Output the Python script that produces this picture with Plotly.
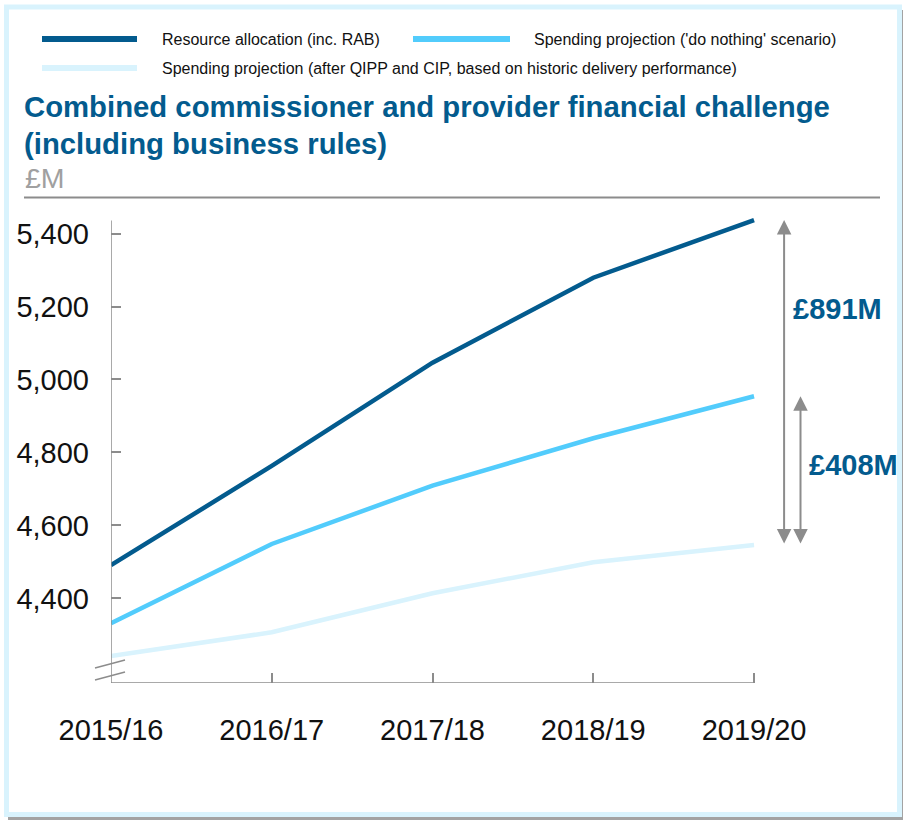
import plotly.graph_objects as go

# Financial years and projections (£M)
categories = ["2015/16", "2016/17", "2017/18", "2018/19", "2019/20"]
resource_allocation = [4491, 4763, 5046, 5279, 5437]
do_nothing = [4332, 4549, 4709, 4839, 4954]
after_qipp_cip = [4242, 4307, 4414, 4499, 4546]
y_tick_values = [4400, 4600, 4800, 5000, 5200, 5400]

series_names = [
    "Resource allocation (inc. RAB)",
    "Spending projection ('do nothing' scenario)",
    "Spending projection (after QIPP and CIP, based on historic delivery performance)",
]
DARK = "#035b8e"
MID = "#52ccfc"
LIGHT = "#d9f3fd"
GREY = "#8c8c8c"
FONT = "Liberation Sans, Arial, sans-serif"

W, H = 903, 820
L, R, T, B = 111, 882, 200, 683
Y_MIN, Y_MAX = 4168, 5492
Y_AXIS_TOP = 5436
X_MAX = 4.796


def px(x):
    return (x - L) / (R - L)


def py(y):
    return (B - y) / (B - T)


xs = list(range(len(categories)))

fig = go.Figure()
for vals, color, name in zip(
    [after_qipp_cip, do_nothing, resource_allocation],
    [LIGHT, MID, DARK],
    [series_names[2], series_names[1], series_names[0]],
):
    fig.add_trace(go.Scatter(x=xs, y=vals, mode="lines", name=name,
                             line=dict(color=color, width=4.5), showlegend=False,
                             hoverinfo="skip"))

shapes = []
# outer frame with drop shadow
shapes.append(dict(type="rect", xref="paper", yref="paper", layer="below",
                   x0=px(8), x1=px(903), y0=py(10), y1=py(820),
                   fillcolor="#a3a3a3", line=dict(width=0)))
shapes.append(dict(type="rect", xref="paper", yref="paper", layer="below",
                   x0=px(6.5), x1=px(899.5), y0=py(7), y1=py(814.5),
                   fillcolor="white", line=dict(color="#d9f3fd", width=5)))
# rule under the heading
shapes.append(dict(type="line", xref="paper", yref="paper",
                   x0=px(24), x1=px(880), y0=py(197.5), y1=py(197.5),
                   line=dict(color=GREY, width=2)))
# axis lines
shapes.append(dict(type="line", xref="x", yref="y", x0=0, x1=0,
                   y0=Y_MIN, y1=Y_AXIS_TOP, line=dict(color=GREY, width=1.5)))
shapes.append(dict(type="line", xref="x", yref="y", x0=0, x1=xs[-1],
                   y0=Y_MIN, y1=Y_MIN, line=dict(color=GREY, width=1.5)))
# axis break marks
for y_off in (0, 12):
    shapes.append(dict(type="line", xref="paper", yref="paper",
                       x0=px(95), x1=px(125), y0=py(668 + y_off), y1=py(660 + y_off),
                       line=dict(color=GREY, width=1.5)))

# legend
legend_rows = [(40, 39, 160, 42, 137, series_names[0], DARK),
               (40, 39, 532, 413, 510, series_names[1], MID),
               (69, 68, 160, 42, 137, series_names[2], LIGHT)]
annotations = []
for ty, ly, tx, lx0, lx1, text, color in legend_rows:
    shapes.append(dict(type="line", xref="paper", yref="paper",
                       x0=px(lx0), x1=px(lx1), y0=py(ly), y1=py(ly),
                       line=dict(color=color, width=6)))
    annotations.append(dict(xref="paper", yref="paper", x=px(tx), y=py(ty),
                            xanchor="left", yanchor="middle", showarrow=False,
                            text=text, font=dict(family=FONT, size=16, color="#111")))

# heading
for text, cy in [("Combined commissioner and provider financial challenge", 107),
                 ("(including business rules)", 143)]:
    annotations.append(dict(xref="paper", yref="paper", x=px(22), y=py(cy),
                            xanchor="left", yanchor="middle", showarrow=False,
                            text=f"<b>{text}</b>",
                            font=dict(family=FONT, size=29.3, color=DARK)))
annotations.append(dict(xref="paper", yref="paper", x=px(23), y=py(178),
                        xanchor="left", yanchor="middle", showarrow=False,
                        text="£M", font=dict(family=FONT, size=28.5, color="#a0a0a0")))

# gap arrows at the final year
last = len(categories) - 1
gap_total = resource_allocation[last] - after_qipp_cip[last]
gap_after = do_nothing[last] - after_qipp_cip[last]
for ax_x, top in [(4.187, resource_allocation[last]), (4.289, do_nothing[last])]:
    annotations.append(dict(xref="x", yref="y", x=ax_x, y=top,
                            axref="x", ayref="y", ax=ax_x, ay=after_qipp_cip[last],
                            text="", showarrow=True, arrowside="end+start",
                            arrowhead=2, startarrowhead=2,
                            arrowsize=1.45, startarrowsize=1.45,
                            arrowwidth=2, arrowcolor=GREY, standoff=0, startstandoff=0))
annotations.append(dict(xref="paper", yref="paper", x=px(791), y=py(309),
                        xanchor="left", yanchor="middle", showarrow=False,
                        text=f"<b>£{gap_total}M</b>",
                        font=dict(family=FONT, size=29, color=DARK)))
annotations.append(dict(xref="paper", yref="paper", x=px(807), y=py(465),
                        xanchor="left", yanchor="middle", showarrow=False,
                        text=f"<b>£{gap_after}M</b>",
                        font=dict(family=FONT, size=29, color=DARK)))

fig.update_layout(
    width=W, height=H,
    margin=dict(l=L, r=W - R, t=T, b=H - B),
    paper_bgcolor="white", plot_bgcolor="rgba(0,0,0,0)",
    shapes=shapes, annotations=annotations, showlegend=False,
    xaxis=dict(range=[0, X_MAX], tickvals=xs, ticktext=categories,
               showgrid=False, zeroline=False, showline=False,
               ticks="inside", ticklen=10, tickwidth=1.5, tickcolor=GREY,
               ticklabelstandoff=27,
               tickfont=dict(family=FONT, size=29, color="#111")),
    yaxis=dict(range=[Y_MIN, Y_MAX], tickvals=y_tick_values,
               tickformat=",d", showgrid=False, zeroline=False, showline=False,
               ticks="inside", ticklen=10, tickwidth=1.5, tickcolor=GREY,
               ticklabelstandoff=21,
               tickfont=dict(family=FONT, size=29, color="#111")),
)

fig.write_html("out.html")
